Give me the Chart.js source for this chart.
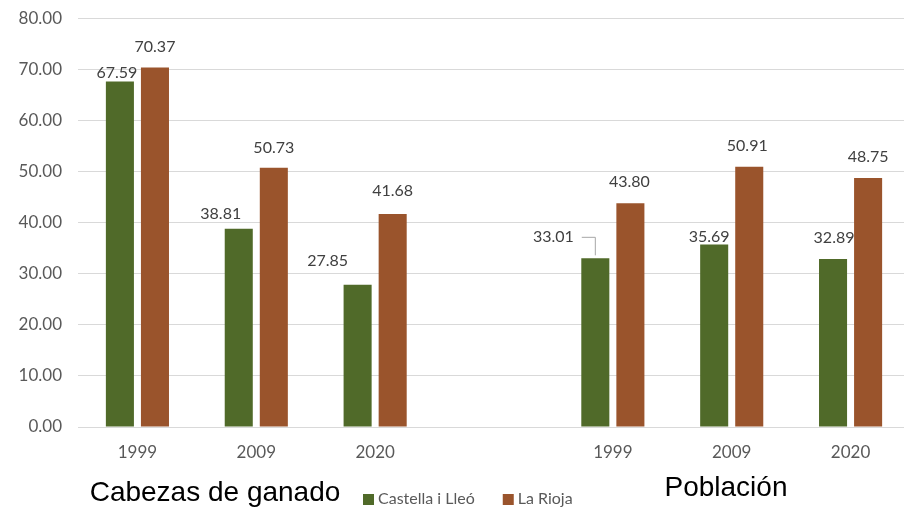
<!DOCTYPE html>
<html>
<head>
<meta charset="utf-8">
<script src="https://cdn.jsdelivr.net/npm/chart.js@4.4.0/dist/chart.umd.min.js"></script>
<style>
  html, body { margin: 0; padding: 0; background: #fff; overflow: hidden; }
  #wrap { width: 912px; height: 516px; margin-top: -8px; }
</style>
</head>
<body>
<div id="wrap"><canvas id="chart" width="912" height="516"></canvas></div>
<script>
const years = ['1999', '2009', '2020', '', '1999', '2009', '2020'];
const castilla = [67.59, 38.81, 27.85, null, 33.01, 35.69, 32.89];
const rioja = [70.37, 50.73, 41.68, null, 43.80, 50.91, 48.75];
const seriesNames = ['Castella i Lleó', 'La Rioja'];
const groupTitles = ['Cabezas de ganado', 'Población'];

const green = '#506A29';
const brown = '#9A542C';

// where each value label sits relative to the top of its bar (dx, dy)
const labelShift = [
  [[-3, -9], [-18, -15], [-30, -24], null, [-42, -21], [-5, -8], [1, -21]],
  [[0, -21], [0, -20], [0, -23], null, [-1, -21], [-2, -21], [0, -21]]
];

const shiftY = 8; // canvas is pulled up by this much

const extras = {
  id: 'extras',
  afterDatasetsDraw(chart) {
    const ctx = chart.ctx;
    ctx.save();
    ctx.font = '16px Lato';
    ctx.fillStyle = '#404040';
    ctx.textAlign = 'center';
    ctx.textBaseline = 'middle';
    chart.data.datasets.forEach((ds, di) => {
      chart.getDatasetMeta(di).data.forEach((bar, i) => {
        const v = ds.data[i];
        if (v == null) return;
        const s = labelShift[di][i];
        const x = bar.x + s[0];
        const y = bar.y + s[1];
        ctx.fillText(v.toFixed(2), x, y);
        // leader line for the label pushed away from its bar
        if (di === 0 && i === 4) {
          ctx.strokeStyle = '#a6a6a6';
          ctx.lineWidth = 1;
          ctx.beginPath();
          const w = ctx.measureText(v.toFixed(2)).width;
          ctx.moveTo(x + w / 2 + 8, y);
          ctx.lineTo(bar.x, y);
          ctx.lineTo(bar.x, bar.y - 3);
          ctx.stroke();
        }
      });
    });

    // legend
    ctx.font = '16px Lato';
    ctx.textAlign = 'left';
    let lx = 363;
    const ly = 499 + shiftY;
    chart.data.datasets.forEach((ds, di) => {
      ctx.fillStyle = ds.backgroundColor;
      ctx.fillRect(lx, ly - 5, 11, 11);
      ctx.fillStyle = '#595959';
      ctx.fillText(ds.label, lx + 15, ly);
      lx += 15 + ctx.measureText(ds.label).width + 28;
    });

    // group titles
    ctx.font = '28px "Liberation Sans"';
    ctx.fillStyle = '#000';
    ctx.textAlign = 'center';
    ctx.fillText(groupTitles[0], 215, 493 + shiftY);
    ctx.fillText(groupTitles[1], 726, 488 + shiftY);
    ctx.restore();
  }
};

new Chart(document.getElementById('chart'), {
  type: 'bar',
  data: {
    labels: years,
    datasets: [
      { label: seriesNames[0], data: castilla, backgroundColor: green },
      { label: seriesNames[1], data: rioja, backgroundColor: brown }
    ]
  },
  options: {
    responsive: false,
    animation: false,
    layout: { padding: { top: 0, right: 2, bottom: 0, left: 0 } },
    datasets: { bar: { categoryPercentage: 0.59, barPercentage: 0.8 } },
    plugins: {
      legend: { display: false },
      tooltip: { enabled: false }
    },
    scales: {
      x: {
        grid: { display: false, drawTicks: false },
        border: { display: false },
        ticks: { color: '#595959', font: { family: 'Lato', size: 17 }, padding: 15 },
        afterFit(scale) { scale.height = 81; }
      },
      y: {
        min: 0,
        max: 80,
        grid: { color: '#d9d9d9', drawTicks: false },
        border: { display: false },
        ticks: {
          stepSize: 10,
          color: '#595959',
          font: { family: 'Lato', size: 17 },
          padding: 16,
          callback: function(value) { return value.toFixed(2); }
        },
        afterFit(scale) { scale.width = 78; }
      }
    }
  },
  plugins: [extras]
});
</script>
</body>
</html>
